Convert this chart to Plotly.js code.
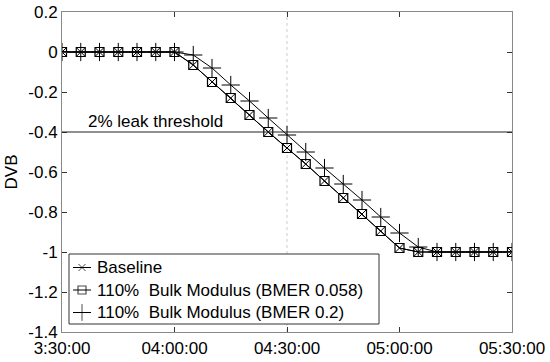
<!DOCTYPE html>
<html>
<head>
<meta charset="utf-8">
<script src="https://cdn.plot.ly/plotly-3.0.1.min.js"></script>
<style>
  body { margin: 0; background: #fff; }
  #DvbPlot { width: 550px; height: 362px; }
</style>
</head>
<body>
<div id="DvbPlot"></div>
<script>
// sample times, every 5 minutes
let times = [
    "03:30:00", "03:35:00", "03:40:00", "03:45:00", "03:50:00", "03:55:00", "04:00:00",
    "04:05:00", "04:10:00", "04:15:00", "04:20:00", "04:25:00", "04:30:00", "04:35:00",
    "04:40:00", "04:45:00", "04:50:00", "04:55:00", "05:00:00", "05:05:00", "05:10:00",
    "05:15:00", "05:20:00", "05:25:00", "05:30:00"
];

let baselineValues = [
    0, 0, 0, 0, 0, 0, 0,
    -0.065, -0.15, -0.23, -0.315, -0.40, -0.48, -0.56,
    -0.645, -0.73, -0.81, -0.895, -0.98, -1.0, -1.0,
    -1.0, -1.0, -1.0, -1.0
];

let bmer058Values = [
    0, 0, 0, 0, 0, 0, 0,
    -0.065, -0.15, -0.23, -0.315, -0.40, -0.48, -0.56,
    -0.645, -0.73, -0.81, -0.895, -0.98, -1.0, -1.0,
    -1.0, -1.0, -1.0, -1.0
];

let bmer02Values = [
    0, 0, 0, 0, 0, 0, 0,
    -0.015, -0.08, -0.165, -0.245, -0.33, -0.415, -0.5,
    -0.58, -0.66, -0.74, -0.825, -0.905, -0.975, -1.0,
    -1.0, -1.0, -1.0, -1.0
];

let seriesNames = [
    "Baseline",
    "110%\u00a0\u00a0Bulk Modulus (BMER 0.058)",
    "110%\u00a0\u00a0Bulk Modulus (BMER 0.2)"
];

let xTickVals = ["03:30:00", "04:00:00", "04:30:00", "05:00:00", "05:30:00"];
let xTickText = ["3:30:00", "04:00:00", "04:30:00", "05:00:00", "05:30:00"];
let yTickVals = [0.2, 0, -0.2, -0.4, -0.6, -0.8, -1, -1.2, -1.4];
let yTickText = ["0.2", "0", "-0.2", "-0.4", "-0.6", "-0.8", "-1", "-1.2", "-1.4"];

let threshold = -0.4;
let thresholdLabel = "2% leak threshold";
let markerTime = "04:30:00";

// put the clock times on a dummy day so plotly can use a date axis
let day = "2000-01-01 ";
let toDate = t => day + t;
let xDates = times.map(toDate);

let lineStyle = { color: "black", width: 1 };
let markerStyles = [
    { symbol: "x-thin-open", size: 8, color: "black", line: { color: "black", width: 1 } },
    { symbol: "square-open", size: 9, color: "black", line: { color: "black", width: 1.2 } },
    { symbol: "cross-thin-open", size: 13, color: "black", line: { color: "black", width: 1 } }
];
let seriesValues = [baselineValues, bmer058Values, bmer02Values];

let dataTrace = seriesValues.map((vals, i) => ({
    x: xDates,
    y: vals,
    name: seriesNames[i],
    type: "scatter",
    mode: "lines+markers",
    line: lineStyle,
    marker: markerStyles[i],
    showlegend: false
}));

// hand made legend (plotly's own legend rows are too tall / symbols too wide)
// plot area is 450 x 320 px, so convert px inside it to paper fractions
let plotLeft = 62, plotTop = 12, plotW = 450, plotH = 320;
let px = p => (p - plotLeft) / plotW;
let py = p => (plotTop + plotH - p) / plotH;

let legendBox = { x0: 69, x1: 379, y0: 254, y1: 324 };
let legendRows = [267.5, 290, 312.5];

legendRows.forEach((row, i) => {
    dataTrace.push({
        x: [px(73), px(82), px(91)],
        y: [py(row), py(row), py(row)],
        xaxis: "x2",
        yaxis: "y2",
        type: "scatter",
        mode: "lines+markers",
        line: lineStyle,
        marker: Object.assign({}, markerStyles[i], {
            size: [0, markerStyles[i].size - (i === 2 ? 1 : 1), 0]
        }),
        showlegend: false,
        hoverinfo: "skip"
    });
});

let legendLabels = legendRows.map((row, i) => ({
    xref: "paper", yref: "paper",
    x: px(95), y: py(row),
    xanchor: "left", yanchor: "middle",
    text: seriesNames[i], showarrow: false,
    font: { size: 17 }
}));

let layout = {
    width: 550,
    height: 362,
    showlegend: false,
    paper_bgcolor: "white",
    plot_bgcolor: "white",
    font: { family: "Arial, 'Liberation Sans', sans-serif", size: 17, color: "black" },
    margin: { l: 62, r: 38, t: 12, b: 30, pad: 0 },
    xaxis: {
        type: "date",
        range: [toDate("03:30:00"), toDate("05:30:00")],
        tickvals: xTickVals.map(toDate),
        ticktext: xTickText,
        ticks: "inside",
        ticklen: 5,
        tickcolor: "#333",
        showline: true,
        linecolor: "#888",
        linewidth: 1,
        mirror: "ticks",
        showgrid: false,
        zeroline: false,
        ticklabelstandoff: 1,
        tickfont: { size: 17 }
    },
    yaxis: {
        range: [-1.4, 0.2],
        tickvals: yTickVals,
        ticktext: yTickText,
        ticks: "inside",
        ticklen: 5,
        tickcolor: "#333",
        showline: true,
        linecolor: "#888",
        linewidth: 1,
        mirror: "ticks",
        showgrid: false,
        zeroline: false,
        tickfont: { size: 17 },
        title: { text: "DVB", font: { size: 17 }, standoff: 6 }
    },
    xaxis2: { overlaying: "x", anchor: "y2", range: [0, 1], visible: false, fixedrange: true },
    yaxis2: { overlaying: "y", anchor: "x2", range: [0, 1], visible: false, fixedrange: true },
    shapes: [
        {
            type: "line", xref: "paper", x0: 0, x1: 1,
            yref: "y", y0: threshold, y1: threshold,
            line: { color: "#222", width: 1 }
        },
        {
            type: "line", xref: "x", x0: toDate(markerTime), x1: toDate(markerTime),
            yref: "paper", y0: 0, y1: 1,
            line: { color: "#ccc", width: 1, dash: "dot" },
            layer: "below"
        },
        {
            type: "rect", xref: "paper", yref: "paper",
            x0: px(legendBox.x0), x1: px(legendBox.x1),
            y0: py(legendBox.y1), y1: py(legendBox.y0),
            line: { color: "#333", width: 1 },
            fillcolor: "white",
            layer: "below"
        }
    ],
    annotations: [
        {
            x: toDate("03:36:20"), y: threshold,
            xanchor: "left", yanchor: "bottom",
            text: thresholdLabel, showarrow: false,
            font: { size: 17 }, yshift: -1
        }
    ].concat(legendLabels)
};

Plotly.newPlot("DvbPlot", dataTrace, layout, { displayModeBar: false, staticPlot: true });
</script>
</body>
</html>
